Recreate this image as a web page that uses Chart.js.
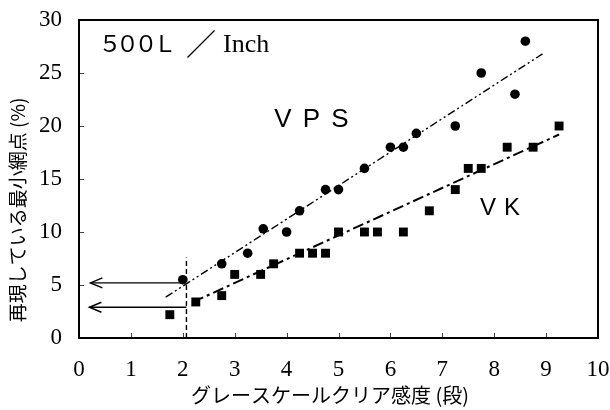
<!DOCTYPE html>
<html>
<head>
<meta charset="utf-8">
<script src="https://cdn.jsdelivr.net/npm/chart.js@4/dist/chart.umd.min.js"></script>
<style>
  html, body { margin: 0; padding: 0; background: #fff; }
  canvas { display: block; }
</style>
</head>
<body>
<canvas id="c" width="610" height="410"></canvas>
<script>
// Gray-scale clear sensitivity (steps) vs. smallest reproduced halftone dot (%)
const vpsGrade = [2.0, 2.75, 3.25, 3.55, 4.0, 4.25, 4.75, 5.0, 5.5, 6.0, 6.25, 6.5, 7.25, 7.75, 8.4, 8.6];
const vpsDot   = [5.5, 7.0, 8.0, 10.3, 10.0, 12.0, 14.0, 14.0, 16.0, 18.0, 18.0, 19.3, 20.0, 25.0, 23.0, 28.0];

const vkGrade = [1.75, 2.25, 2.75, 3.0, 3.5, 3.75, 4.25, 4.5, 4.75, 5.0, 5.5, 5.75, 6.25, 6.75, 7.25, 7.5, 7.75, 8.25, 8.75, 9.25];
const vkDot   = [2.2, 3.4, 4.0, 6.0, 6.0, 7.0, 8.0, 8.0, 8.0, 10.0, 10.0, 10.0, 10.0, 12.0, 14.0, 16.0, 16.0, 18.0, 18.0, 20.0];

// Fitted trend lines (end points)
const vpsFitGrade = [1.67, 8.93];
const vpsFitDot   = [3.85, 26.8];
const vkFitGrade  = [2.2, 9.25];
const vkFitDot    = [3.4, 19.2];

// Reading guide: vertical cut at ~2 steps, arrows back to the dot axis
const guideGrade = [2.07, 2.07];
const guideDot   = [0, 7.6];
const arrowDot   = [5.2, 2.9];
const arrowFrom  = [2.0, 2.07];
const arrowTo    = [0.22, 0.2];

const xTickLabels = ['0', '1', '2', '3', '4', '5', '6', '7', '8', '9', '10'];
const yTickLabels = ['0', '5', '10', '15', '20', '25', '30'];

const xTitle = 'グレースケールクリア感度 (段)';
const yTitle = '再現している最小網点 (%)';
const screenLabel = ['５', '０', '０', 'Ｌ'];
const screenSlash = '／';
const screenUnit = 'Inch';
const seriesNames = ['ＶＰＳ', 'ＶＫ'];

const pts = (xs, ys) => xs.map((v, i) => ({ x: v, y: ys[i] }));

const guideLines = [
  { data: pts(guideGrade, guideDot), dash: [5, 3], width: 1.4 },
  { data: pts([arrowFrom[0], arrowTo[0]], [arrowDot[0], arrowDot[0]]), dash: [], width: 1.4 },
  { data: pts([arrowFrom[1], arrowTo[1]], [arrowDot[1], arrowDot[1]]), dash: [], width: 1.4 }
];

const annotate = {
  id: 'annotate',
  afterDatasetsDraw(chart) {
    const { ctx, chartArea: a, scales: { x, y } } = chart;
    ctx.save();

    // inner tick marks
    ctx.strokeStyle = '#444';
    ctx.lineWidth = 1;
    ctx.beginPath();
    xTickLabels.forEach(t => {
      const v = Number(t);
      if (v <= x.min || v >= x.max) return;
      const px = Math.round(x.getPixelForValue(v)) + 0.5;
      ctx.moveTo(px, a.bottom); ctx.lineTo(px, a.bottom - 5);
    });
    yTickLabels.forEach(t => {
      const v = Number(t);
      if (v <= y.min || v >= y.max) return;
      const py = Math.round(y.getPixelForValue(v)) + 0.5;
      ctx.moveTo(a.left, py); ctx.lineTo(a.left + 5, py);
    });
    ctx.stroke();

    // frame
    ctx.strokeStyle = '#000';
    ctx.lineWidth = 2;
    ctx.strokeRect(a.left, a.top, a.right - a.left, a.bottom - a.top);

    // open arrow heads
    ctx.lineWidth = 1.4;
    arrowDot.forEach((d, i) => {
      const tx = x.getPixelForValue(arrowTo[i]);
      const ty = y.getPixelForValue(d);
      ctx.beginPath();
      ctx.moveTo(tx + 12, ty - 5);
      ctx.lineTo(tx, ty);
      ctx.lineTo(tx + 12, ty + 5);
      ctx.stroke();
    });

    ctx.fillStyle = '#000';
    ctx.textBaseline = 'alphabetic';
    ctx.textAlign = 'center';

    // screen ruling label
    ctx.font = '23px "Noto Sans CJK JP"';
    const sx = x.getPixelForValue(0.52);
    const sy = y.getPixelForValue(27.0);
    const offs = [4, 21.5, 40, 59];
    screenLabel.forEach((ch, i) => ctx.fillText(ch, sx + offs[i], sy));
    ctx.font = '30px "Noto Sans CJK JP"';
    ctx.fillText(screenSlash, sx + 95, sy + 3);
    ctx.textAlign = 'left';
    ctx.font = '26px "Liberation Serif"';
    ctx.fillText(screenUnit, sx + 117, sy);

    // series names
    ctx.textAlign = 'center';
    ctx.font = '26px "Liberation Sans"';
    const vpsChars = ['V', 'P', 'S'];
    const vx = x.getPixelForValue(3.93), vy = y.getPixelForValue(19.94);
    vpsChars.forEach((ch, i) => ctx.fillText(ch, vx + i * 28.5, vy));
    ctx.font = '24px "Liberation Sans"';
    const vkChars = ['V', 'K'];
    const kx = x.getPixelForValue(7.88), ky = y.getPixelForValue(11.6);
    vkChars.forEach((ch, i) => ctx.fillText(ch, kx + i * 24, ky));

    // axis titles
    ctx.font = '20px "Noto Sans CJK JP"';
    ctx.textAlign = 'center';
    ctx.textBaseline = 'middle';
    ctx.fillText(xTitle, 330, 395);
    ctx.save();
    ctx.translate(18, 210);
    ctx.rotate(-Math.PI / 2);
    ctx.font = '19px "Noto Sans CJK JP"';
    ctx.fillText(yTitle, 0, 0);
    ctx.restore();

    ctx.restore();
  }
};

new Chart(document.getElementById('c'), {
  type: 'scatter',
  data: {
    datasets: [
      {
        label: seriesNames[0],
        data: pts(vpsGrade, vpsDot),
        pointStyle: 'circle', pointRadius: 4.8,
        backgroundColor: '#000', borderColor: '#000', borderWidth: 0
      },
      {
        label: seriesNames[1],
        data: pts(vkGrade, vkDot),
        pointStyle: 'rect', pointRadius: 6.3,
        backgroundColor: '#000', borderColor: '#000', borderWidth: 0
      },
      {
        data: pts(vpsFitGrade, vpsFitDot), showLine: true, pointRadius: 0,
        borderColor: '#000', borderWidth: 1.4, borderDash: [8, 3, 2, 3, 2, 3]
      },
      {
        data: pts(vkFitGrade, vkFitDot), showLine: true, pointRadius: 0,
        borderColor: '#000', borderWidth: 2, borderDash: [11, 4, 3, 4]
      },
      ...guideLines.map(g => ({
        data: g.data, showLine: true, pointRadius: 0,
        borderColor: '#000', borderWidth: g.width, borderDash: g.dash
      }))
    ]
  },
  options: {
    responsive: false,
    devicePixelRatio: 1,
    animation: false,
    layout: { padding: { left: 0, right: 12, top: 20, bottom: 0 } },
    plugins: { legend: { display: false }, tooltip: { enabled: false } },
    scales: {
      x: {
        type: 'linear', min: 0, max: 10,
        grid: { display: false, drawTicks: false },
        border: { display: false },
        ticks: {
          stepSize: 1, padding: 18, color: '#000', autoSkip: false, maxRotation: 0,
          font: { family: 'Liberation Serif', size: 23 },
          callback: (v) => xTickLabels[v] ?? ''
        },
        afterFit(s) { s.height = 72; s.paddingLeft = 0; s.paddingRight = 0; }
      },
      y: {
        type: 'linear', min: 0, max: 30,
        grid: { display: false, drawTicks: false },
        border: { display: false },
        ticks: {
          stepSize: 5, padding: 17, color: '#000', autoSkip: false,
          font: { family: 'Liberation Serif', size: 23 },
          callback: (v) => yTickLabels[v / 5] ?? ''
        },
        afterFit(s) { s.width = 79; s.paddingTop = 0; s.paddingBottom = 0; }
      }
    }
  },
  plugins: [annotate]
});
</script>
</body>
</html>
